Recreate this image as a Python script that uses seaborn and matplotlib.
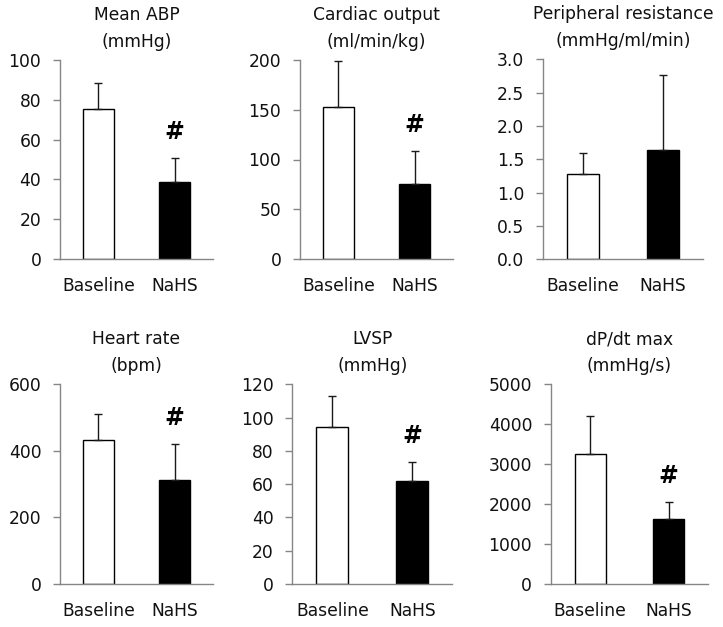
import matplotlib
matplotlib.use("Agg")
import matplotlib.pyplot as plt
import seaborn as sns
import pandas as pd
import numpy as np

sns.set_style("white")
plt.rcParams['font.family'] = ['DejaVu Sans']

groups = ["Baseline", "NaHS"]
titles = ["Mean ABP\n(mmHg)", "Cardiac output\n(ml/min/kg)", "Peripheral resistance\n(mmHg/ml/min)",
          "Heart rate\n(bpm)", "LVSP\n(mmHg)", "dP/dt max\n(mmHg/s)"]
means_abp = [75.4, 38.8]
sd_abp = [13.2, 11.8]
means_co = [152.5, 75.4]
sd_co = [46.8, 33.1]
means_pr = [1.28, 1.645]
sd_pr = [0.32, 1.125]
means_hr = [432.6, 311.5]
sd_hr = [77.2, 109.1]
means_lvsp = [94.2, 61.7]
sd_lvsp = [18.6, 11.6]
means_dpdt = [3247, 1627]
sd_dpdt = [967, 434]
significant = [True, True, False, True, True, True]
ylims = [100, 200, 3.0, 600, 120, 5000]
ysteps = [20, 50, 0.5, 200, 20, 1000]
yfmt = ["{:.0f}", "{:.0f}", "{:.1f}", "{:.0f}", "{:.0f}", "{:.0f}"]

all_means = [means_abp, means_co, means_pr, means_hr, means_lvsp, means_dpdt]
all_sds = [sd_abp, sd_co, sd_pr, sd_hr, sd_lvsp, sd_dpdt]

W, H = 723, 627
fig = plt.figure(figsize=(W / 100, H / 100), dpi=100)

# axes boxes in pixels: left, right, top, bottom
boxes = [(60, 213, 60, 259), (300, 453, 60, 259), (543, 703, 59.3, 259.3),
         (60, 213, 384.3, 584), (292.3, 452.3, 384.3, 584), (551, 707.7, 384.3, 584)]

axis_gray = "#868686"
text_col = "#111111"

for i in range(6):
    l, r, t, b = boxes[i]
    ax = fig.add_axes([l / W, 1 - b / H, (r - l) / W, (b - t) / H])
    df = pd.DataFrame({"group": groups, "value": all_means[i]})
    sns.barplot(data=df, x="group", y="value", hue="group",
                palette=["white", "black"], edgecolor="black", linewidth=1.0,
                width=0.40, errorbar=None, legend=False, ax=ax)
    ax.errorbar([0, 1], all_means[i], yerr=[[0, 0], all_sds[i]], fmt="none",
                ecolor="#1a1a1a", elinewidth=1.0, capsize=3, capthick=1.0, zorder=1)
    ax.set_xlim(-0.5, 1.5)
    ax.set_ylim(0, ylims[i])
    yt = np.arange(0, ylims[i] + ysteps[i] / 2, ysteps[i])
    ax.set_yticks(yt)
    ax.set_yticklabels([yfmt[i].format(v) for v in yt], fontsize=12.3, color=text_col)
    ax.set_xticks([0, 1])
    ax.set_xticklabels(groups, fontsize=12.3, color=text_col)
    ax.set_xticks([-0.5, 0.5, 1.5], minor=True)
    ax.tick_params(axis="x", which="major", length=0, pad=13)
    ax.tick_params(axis="x", which="minor", length=5, width=1, color=axis_gray, direction="out")
    ax.tick_params(axis="y", length=5, width=1, color=axis_gray, direction="out", pad=8.5, left=True)
    ax.set_xlabel("")
    ax.set_ylabel("")
    for s in ["top", "right"]:
        ax.spines[s].set_visible(False)
    for s in ["left", "bottom"]:
        ax.spines[s].set_color(axis_gray)
        ax.spines[s].set_linewidth(1.0)
    lines = titles[i].split("\n")
    ax.annotate(lines[0], xy=(0.5, 1.0), xycoords="axes fraction", xytext=(0, 45),
                textcoords="offset pixels", ha="center", va="center", fontsize=12.3, color=text_col)
    ax.annotate(lines[1], xy=(0.5, 1.0), xycoords="axes fraction", xytext=(0, 18),
                textcoords="offset pixels", ha="center", va="center", fontsize=12.3, color=text_col)
    if significant[i]:
        ax.annotate("#", xy=(1, all_means[i][1] + all_sds[i][1]), xycoords="data",
                    xytext=(0, 26), textcoords="offset pixels", ha="center", va="center",
                    fontsize=17, fontweight="bold", color="black", annotation_clip=False)

fig.savefig("out.png", dpi=100)
